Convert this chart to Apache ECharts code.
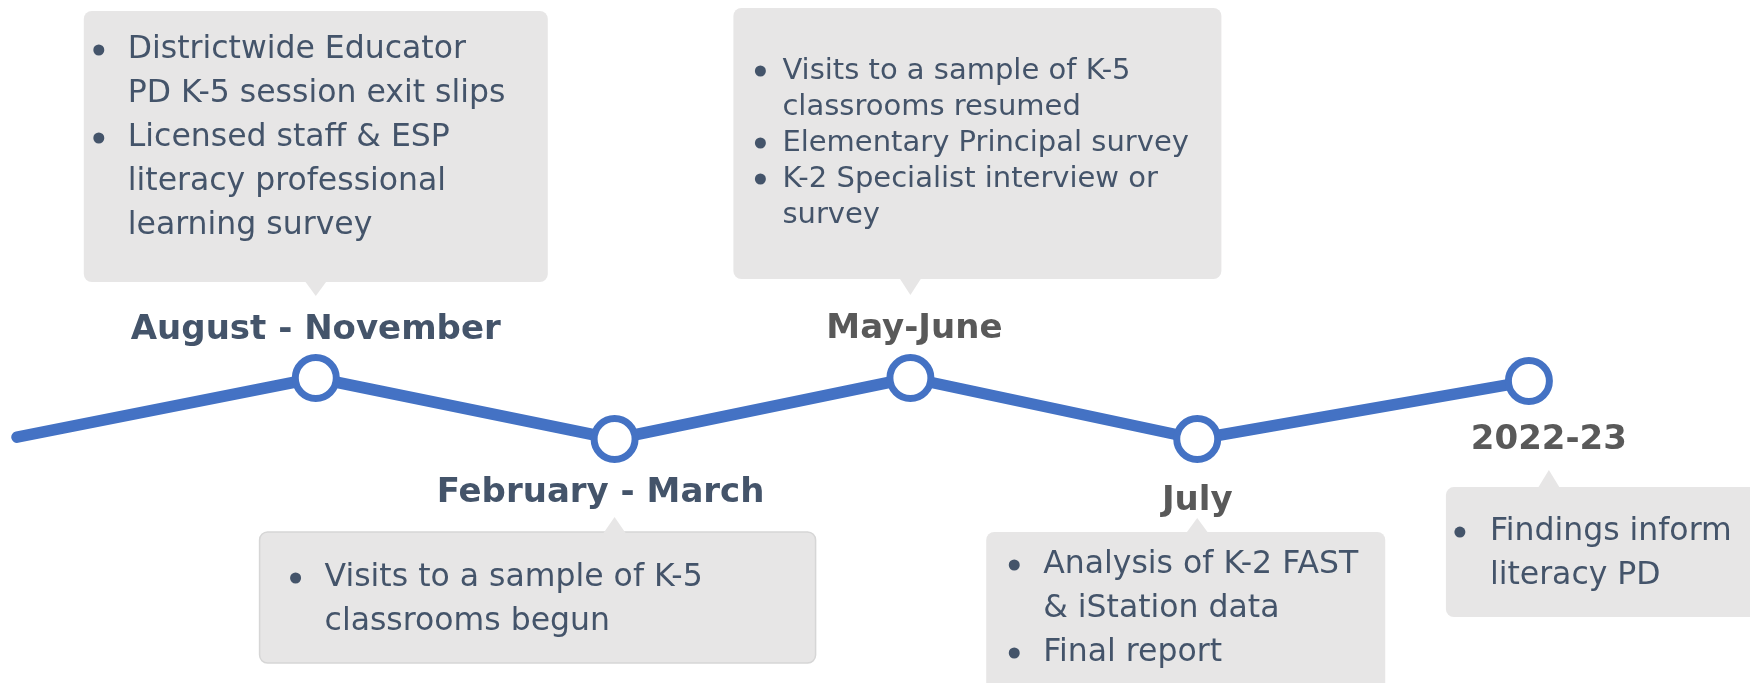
<!DOCTYPE html>
<html>
<head>
<meta charset="utf-8">
<title>Timeline</title>
<script src="https://cdn.jsdelivr.net/npm/echarts@6/dist/echarts.min.js"></script>
<style>
  html, body { margin: 0; padding: 0; background: #fff; }
  #chart { width: 1750px; height: 683px; }
</style>
</head>
<body>
<div id="chart"></div>
<script>
// timeline data (first entry is the lead-in stub of the line)
const periods = ['', 'August - November', 'February - March', 'May-June', 'July', '2022-23']
const timeX = [0, 1, 2, 2.99, 3.95, 5.06]
const level = [0.03, 1, 0, 1, 0, 0.95]

const notes = [
  [],
  ['Districtwide Educator\nPD K-5 session exit slips', 'Licensed staff & ESP\nliteracy professional\nlearning survey'],
  ['Visits to a sample of K-5\nclassrooms begun'],
  ['Visits to a sample of K-5\nclassrooms resumed', 'Elementary Principal survey', 'K-2 Specialist interview or\nsurvey'],
  ['Analysis of K-2 FAST\n& iStation data', 'Final report'],
  ['Findings inform\nliteracy PD'],
]

// styling / layout
const BLUE = '#4472c4'
const SLATE = '#44546a'
const GREY = '#595959'
const BOX = '#e7e6e6'
const FONT = "'DejaVu Sans', 'Open Sans', sans-serif"

const labelStyle = [
  null,
  { color: SLATE, offset: [0, -48] },
  { color: SLATE, offset: [-14, 54] },
  { color: GREY, offset: [4, -49] },
  { color: GREY, offset: [0, 62] },
  { color: GREY, offset: [20, 59] },
]

const calloutLayout = [
  null,
  { side: 'above', left: -232, width: 464, gap: 96, height: 271, tip: 14, tipDx: 0, bulletX: 15, textX: 44, firstLine: 39, lineHeight: 44, fontSize: 31.5 },
  { side: 'below', left: -355, width: 556, gap: 93, height: 131, tip: 15, tipDx: 0, bulletX: 36, textX: 65, firstLine: 46, lineHeight: 44, fontSize: 31.5, border: '#d6d6d6' },
  { side: 'above', left: -177, width: 488, gap: 99, height: 271, tip: 16, tipDx: 0, bulletX: 27, textX: 49, firstLine: 63, lineHeight: 36, fontSize: 29 },
  { side: 'below', left: -211, width: 399, gap: 93, height: 190, tip: 14, tipDx: 0, bulletX: 28, textX: 57, firstLine: 33, lineHeight: 44, fontSize: 31.5 },
  { side: 'below', left: -83, width: 340, gap: 106, height: 130, tip: 17, tipDx: 20, bulletX: 14, textX: 44, firstLine: 45, lineHeight: 44, fontSize: 31.5 },
]

const chart = echarts.init(document.getElementById('chart'), null, { renderer: 'canvas' })

const seriesData = periods.map((name, i) => {
  const item = { name, value: [timeX[i], level[i]] }
  if (i === 0) {
    item.symbol = 'none'
    item.label = { show: false }
  } else {
    item.label = {
      show: true,
      position: 'inside',
      offset: labelStyle[i].offset,
      color: labelStyle[i].color,
    }
  }
  return item
})

chart.setOption({
  animation: false,
  grid: { left: 17, right: 0, top: 378, height: 61, outerBoundsMode: 'none', containLabel: false },
  xAxis: { type: 'value', min: 0, max: 5.8, show: false },
  yAxis: { type: 'value', min: 0, max: 1, show: false },
  series: [
    {
      type: 'line',
      data: seriesData,
      clip: false,
      symbol: 'circle',
      symbolSize: 41,
      showAllSymbol: true,
      lineStyle: { color: BLUE, width: 11.5, cap: 'round', join: 'round' },
      itemStyle: { color: '#fff', borderColor: BLUE, borderWidth: 7 },
      label: {
        formatter: '{b}',
        fontFamily: FONT,
        fontSize: 34,
        fontWeight: 'bold',
        align: 'center',
        verticalAlign: 'middle',
      },
      emphasis: { disabled: true },
      z: 3,
    },
  ],
})

function buildCallouts() {
  const graphics = []
  notes.forEach((items, i) => {
    const lay = calloutLayout[i]
    if (!lay || !items.length) return
    const [px, py] = chart.convertToPixel({ seriesIndex: 0 }, [timeX[i], level[i]])
    const x = px + lay.left
    let top, tipY, baseY
    if (lay.side === 'above') {
      top = py - lay.gap - lay.height
      baseY = py - lay.gap - 1
      tipY = py - lay.gap + lay.tip
    } else {
      top = py + lay.gap
      baseY = top + 1
      tipY = top - lay.tip
    }
    const tx = px + lay.tipDx
    graphics.push({
      type: 'rect',
      shape: { x, y: top, width: lay.width, height: lay.height, r: 8 },
      style: { fill: BOX, stroke: lay.border || null, lineWidth: lay.border ? 1.5 : 0 },
      silent: true,
      z: 1,
    })
    graphics.push({
      type: 'polygon',
      shape: { points: [[tx - 11, baseY], [tx + 11, baseY], [tx, tipY]] },
      style: { fill: BOX },
      silent: true,
      z: 2,
    })
    let line = 0
    items.forEach((item) => {
      const rows = item.split('\n')
      const y0 = top + lay.firstLine + line * lay.lineHeight
      graphics.push({
        type: 'circle',
        shape: { cx: x + lay.bulletX, cy: y0, r: 5.5 },
        style: { fill: SLATE },
        silent: true,
        z: 3,
      })
      rows.forEach((row) => {
        graphics.push({
          type: 'text',
          x: x + lay.textX,
          y: top + lay.firstLine + line * lay.lineHeight,
          style: {
            text: row,
            fill: SLATE,
            font: lay.fontSize + 'px ' + FONT,
            textAlign: 'left',
            textVerticalAlign: 'middle',
          },
          silent: true,
          z: 3,
        })
        line++
      })
    })
  })
  chart.setOption({ graphic: graphics })
}

buildCallouts()

window.addEventListener('resize', () => {
  chart.resize()
  buildCallouts()
})
</script>
</body>
</html>
